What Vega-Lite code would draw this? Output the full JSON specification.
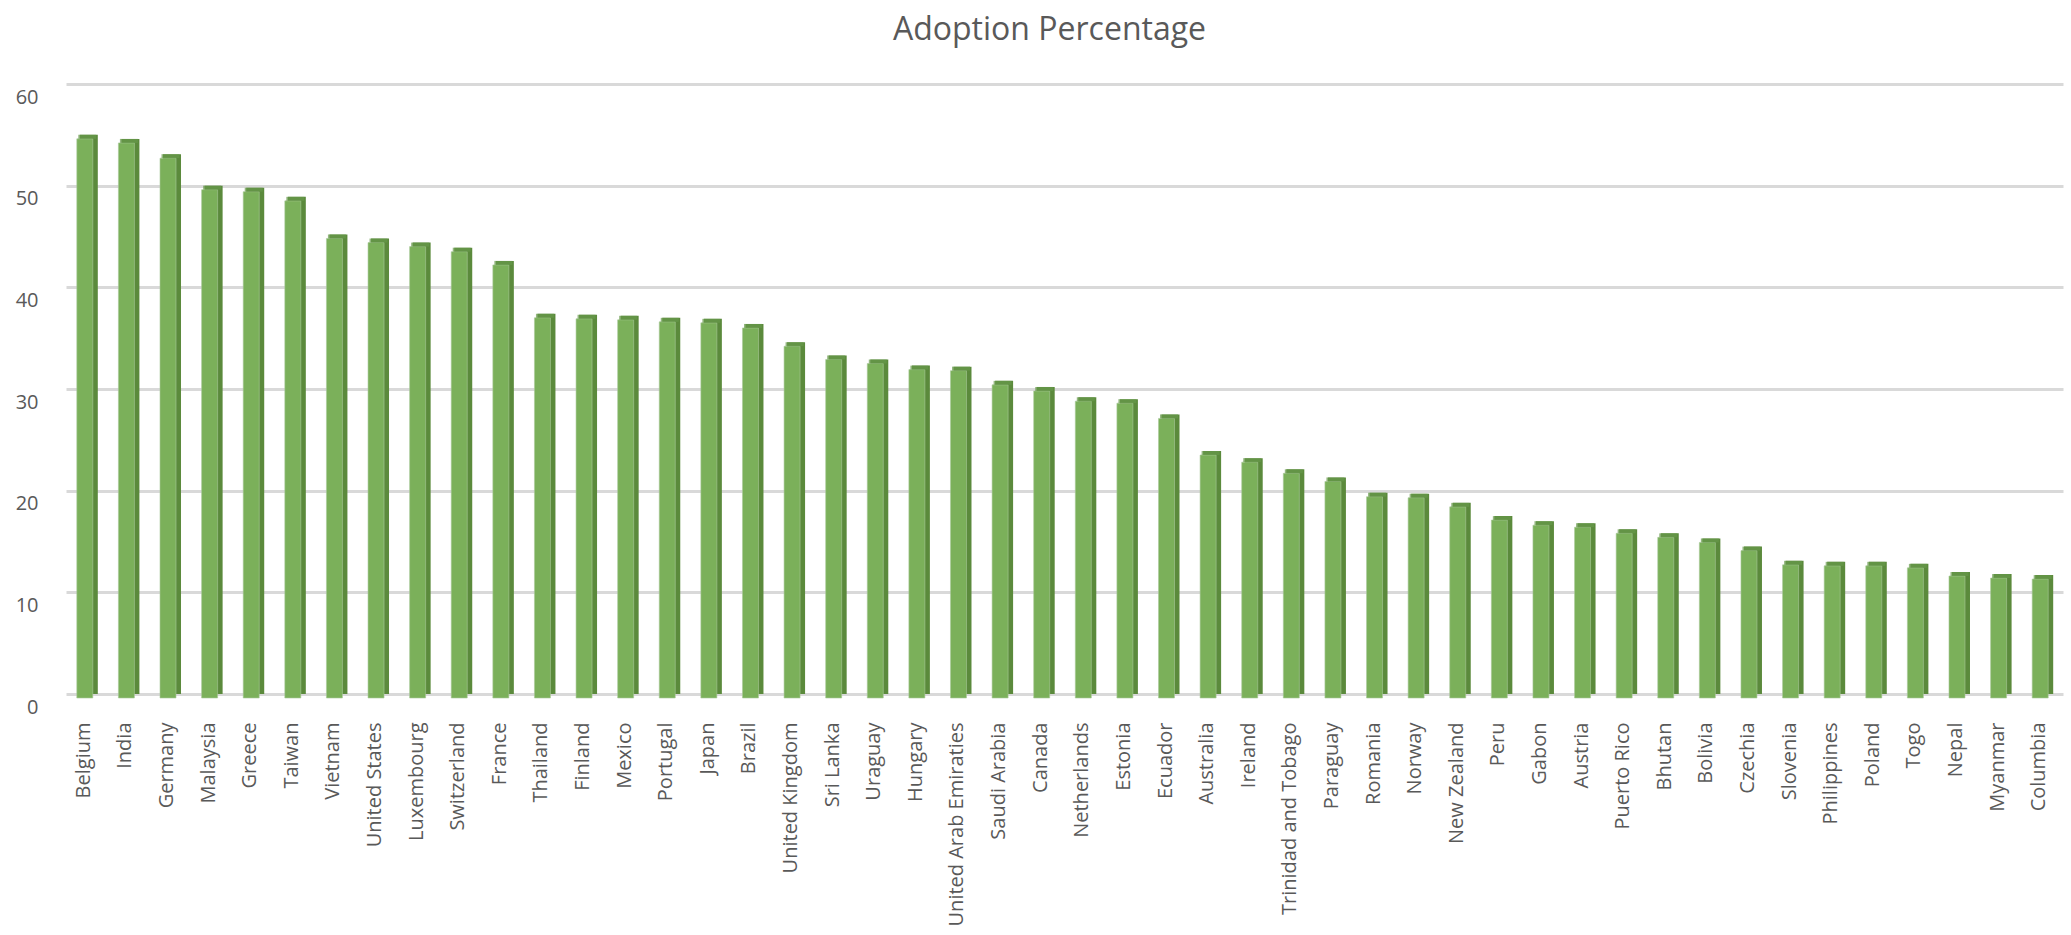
{
  "$schema": "https://vega.github.io/schema/vega-lite/v6.json",
  "width": 1997,
  "height": 610,
  "autosize": {"type": "none"},
  "padding": {"left": 66, "top": 84, "right": 8, "bottom": 241},
  "background": "white",
  "config": {"view": {"stroke": null}},
  "title": {"text": "Adoption Percentage", "font": "Open Sans", "fontSize": 32, "fontWeight": "normal", "color": "#595959", "anchor": "middle", "dx": -15, "offset": 12, "baseline": "alphabetic"},
  "data": {"values": [
    {"country": "Belgium", "adoption": 55.0},
    {"country": "India", "adoption": 54.6},
    {"country": "Germany", "adoption": 53.1},
    {"country": "Malaysia", "adoption": 50.0},
    {"country": "Greece", "adoption": 49.8},
    {"country": "Taiwan", "adoption": 48.9},
    {"country": "Vietnam", "adoption": 45.2},
    {"country": "United States", "adoption": 44.8},
    {"country": "Luxembourg", "adoption": 44.4},
    {"country": "Switzerland", "adoption": 43.9},
    {"country": "France", "adoption": 42.6},
    {"country": "Thailand", "adoption": 37.4},
    {"country": "Finland", "adoption": 37.3},
    {"country": "Mexico", "adoption": 37.2},
    {"country": "Portugal", "adoption": 37.0},
    {"country": "Japan", "adoption": 36.9},
    {"country": "Brazil", "adoption": 36.4},
    {"country": "United Kingdom", "adoption": 34.6},
    {"country": "Sri Lanka", "adoption": 33.3},
    {"country": "Uraguay", "adoption": 32.9},
    {"country": "Hungary", "adoption": 32.3},
    {"country": "United Arab Emiraties", "adoption": 32.2},
    {"country": "Saudi Arabia", "adoption": 30.8},
    {"country": "Canada", "adoption": 30.2},
    {"country": "Netherlands", "adoption": 29.2},
    {"country": "Estonia", "adoption": 29.0},
    {"country": "Ecuador", "adoption": 27.5},
    {"country": "Australia", "adoption": 23.9},
    {"country": "Ireland", "adoption": 23.2},
    {"country": "Trinidad and Tobago", "adoption": 22.1},
    {"country": "Paraguay", "adoption": 21.3},
    {"country": "Romania", "adoption": 19.8},
    {"country": "Norway", "adoption": 19.7},
    {"country": "New Zealand", "adoption": 18.8},
    {"country": "Peru", "adoption": 17.5},
    {"country": "Gabon", "adoption": 17.0},
    {"country": "Austria", "adoption": 16.8},
    {"country": "Puerto Rico", "adoption": 16.2},
    {"country": "Bhutan", "adoption": 15.8},
    {"country": "Bolivia", "adoption": 15.3},
    {"country": "Czechia", "adoption": 14.5},
    {"country": "Slovenia", "adoption": 13.1},
    {"country": "Philippines", "adoption": 13.0},
    {"country": "Poland", "adoption": 13.0},
    {"country": "Togo", "adoption": 12.8},
    {"country": "Nepal", "adoption": 12.0},
    {"country": "Myanmar", "adoption": 11.8},
    {"country": "Columbia", "adoption": 11.7}
  ]},
  "encoding": {
    "x": {
      "field": "country", "type": "nominal", "sort": null,
      "scale": {"paddingInner": 0.5, "paddingOuter": 0.25},
      "axis": {"title": null, "domain": false, "ticks": false, "tickSize": 0, "labelAngle": -90, "labelPadding": 28, "labelOffset": -3, "labelFont": "Open Sans", "labelFontSize": 20, "labelColor": "#595959", "labelLimit": 400, "grid": false}
    },
    "y": {
      "field": "adoption", "type": "quantitative",
      "scale": {"domain": [0, 60], "nice": false},
      "axis": {"title": null, "domain": false, "ticks": false, "tickSize": 0, "values": [0, 10, 20, 30, 40, 50, 60], "labelPadding": 28, "labelOffset": 13, "labelFont": "Open Sans", "labelFontSize": 20, "labelColor": "#595959", "grid": true, "gridColor": "#d9d9d9", "gridWidth": 3}
    }
  },
  "layer": [
    {"mark": {"type": "bar", "width": 18, "xOffset": 2, "y2Offset": 3, "color": "#5b8a3c"}},
    {"mark": {"type": "bar", "width": 16, "xOffset": -2, "yOffset": 4, "y2Offset": 7, "color": "#7bb05a", "stroke": "#a9c99a", "strokeWidth": 0.6}},
    {"mark": {"type": "tick", "orient": "horizontal", "size": 18, "thickness": 4, "xOffset": 0.5, "yOffset": 2, "color": "#66994a"}}
  ]
}
